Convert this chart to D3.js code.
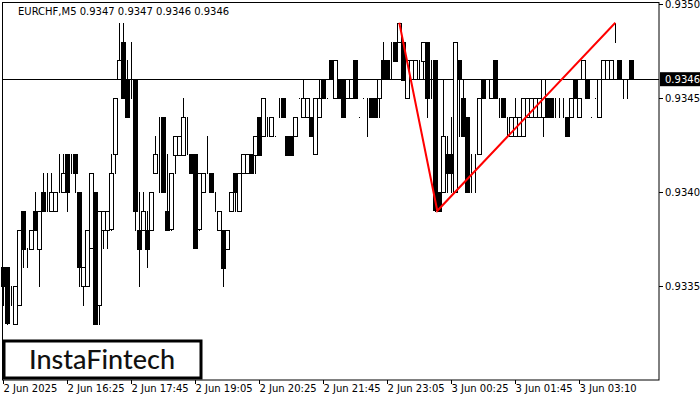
<!DOCTYPE html>
<html><head><meta charset="utf-8">
<script src="https://cdn.jsdelivr.net/npm/d3@7"></script>
<style>body{margin:0;background:#fff}svg{font-family:Tahoma,"DejaVu Sans",sans-serif}</style>
</head><body><div id="chart"></div>
<script>
// prices in 0.93xx pips
var opens  = [36,36,34,33,34,39,37,37,39,37,40,40,39,39,41,40,42,41,42,40,35,35,37,40,34,38,38,38,42,46,48,46,45,46,38,38,38,38,41,43,44,39,38,42,42,42,43,42,42,38,40,42,41,39,38,38,37,39,41,39,41,41,42,42,44,43,44,43,43,44,45,43,43,43,45,44,44,44,42,44,46,45,47,45,46,46,45,45,47,44,45,44,45,45,45,47,47,47,48,48,48,45,46,46,47,47,48,46,47,40,40,42,42,40,47,45,44,42,41,42,46,46,45,47,44,45,43,43,43,43,43,44,44,44,44,44,45,45,44,44,44,44,44,46,44,46,46,44,45,44,46,46,46,48,47,46,46,47];
var highs  = [36,36,35,35,38,39,37,38,40,39,41,41,41,40,42,42,42,42,42,40,36,38,41,40,39,39,39,42,45,49,49,47,48,46,40,40,39,40,43,44,44,42,41,43,43,45,44,42,42,41,41,43,41,40,39,38,38,40,41,41,42,42,42,43,44,45,44,44,43,45,45,43,43,44,45,46,45,44,45,46,46,45,47,47,46,46,46,46,47,44,45,45,45,45,46,48,47,48,48,49,48,47,47,47,47,48,48,47,47,40,46,43,44,48,47,46,44,42,42,45,46,46,46,47,45,45,44,44,45,44,45,45,45,45,45,46,45,45,45,45,45,44,45,46,45,47,46,44,45,46,47,47,47,49,47,46,46,47];
var lows   = [34,33,34,33,34,36,36,37,38,35,39,39,39,39,40,40,39,41,40,35,34,35,37,33,33,37,37,38,41,46,45,44,45,38,35,38,36,38,41,40,40,38,38,41,42,42,42,41,37,38,40,41,40,39,38,35,37,39,39,39,41,41,41,41,42,43,43,43,43,44,44,42,42,43,45,44,44,43,42,44,45,45,46,45,45,44,45,45,45,44,45,43,44,44,44,46,46,46,47,48,46,45,46,46,46,46,44,45,39,39,40,40,40,40,43,43,40,40,40,42,45,46,45,45,44,44,43,43,43,43,43,44,44,44,44,43,44,44,44,44,44,43,44,45,44,46,45,44,45,44,46,46,46,48,46,45,45,46];
var closes = [35,33,34,35,38,37,37,38,38,39,39,40,40,40,41,41,40,41,41,36,36,38,41,33,39,39,39,41,45,47,45,44,45,39,37,39,37,40,42,43,40,38,41,43,43,44,43,41,37,41,41,42,40,39,39,36,38,40,40,41,42,42,41,43,42,45,44,44,43,44,44,42,42,44,45,45,45,43,45,45,45,45,46,47,45,44,46,46,45,44,45,44,44,44,46,46,46,47,47,49,46,47,47,47,47,48,45,46,39,39,43,41,41,48,46,43,40,42,41,45,45,46,46,45,44,44,43,44,44,44,45,45,45,45,45,46,44,44,44,44,44,43,45,45,45,47,45,44,45,46,47,47,47,48,46,46,46,46];
var priceTicks = [0.9350, 0.9345, 0.9340, 0.9335];
var timeLabels = ["2 Jun 2025","2 Jun 16:25","2 Jun 17:45","2 Jun 19:05","2 Jun 20:25","2 Jun 21:45","2 Jun 23:05","3 Jun 00:25","3 Jun 01:45","3 Jun 03:10"];
var pattern = [[99, 0.9349], [108.5, 0.9339], [153, 0.9349]];
var lastPrice = 0.9346;

var W = 700, H = 400, right = 659, bottom = 380;
var svg = d3.select("#chart").append("svg").attr("width", W).attr("height", H);
var x = d3.scaleLinear().domain([0, 157]).range([3.3, 3.3 + 4 * 157]);
var y = d3.scaleLinear().domain([0.9350, 0.9335]).range([4, 286]);
var p = function (v) { return 0.93 + v / 10000; };

svg.append("rect").attr("x", 2.5).attr("y", 2.5).attr("width", right - 2.5).attr("height", bottom - 2.5)
  .attr("fill", "none").attr("stroke", "#000");

// last price line
svg.append("line").attr("x1", 3).attr("x2", right).attr("y1", Math.round(y(lastPrice)) + 0.5).attr("y2", Math.round(y(lastPrice)) + 0.5)
  .attr("stroke", "#000");

var g = svg.append("g").attr("shape-rendering", "crispEdges");
var idx = d3.range(opens.length);
g.selectAll("line.w").data(idx).join("line")
  .attr("x1", function (i) { return Math.round(x(i)) + 0.5; }).attr("x2", function (i) { return Math.round(x(i)) + 0.5; })
  .attr("y1", function (i) { return Math.round(y(p(highs[i]))); }).attr("y2", function (i) { return Math.round(y(p(lows[i]))) + 1; })
  .attr("stroke", "#000");
g.selectAll("rect.b").data(idx).join("rect")
  .attr("x", function (i) { return Math.round(x(i)) - 1.5; })
  .attr("y", function (i) { return Math.round(y(p(Math.max(opens[i], closes[i])))) + 0.5; })
  .attr("width", 4)
  .attr("height", function (i) { return Math.max(0, Math.round(y(p(Math.min(opens[i], closes[i]))) - y(p(Math.max(opens[i], closes[i]))))); })
  .attr("fill", function (i) { return closes[i] < opens[i] ? "#000" : "#fff"; })
  .attr("stroke", "#000");

// pattern
svg.append("path").datum(pattern)
  .attr("d", d3.line().x(function (d) { return x(d[0]); }).y(function (d) { return y(d[1]); }))
  .attr("fill", "none").attr("stroke", "#f00").attr("stroke-width", 2);

// price axis
var ax = svg.append("g");
priceTicks.forEach(function (t) {
  ax.append("line").attr("x1", right).attr("x2", right + 4).attr("y1", Math.round(y(t)) + 0.5).attr("y2", Math.round(y(t)) + 0.5).attr("stroke", "#000");
  ax.append("text").attr("x", 665).attr("y", y(t) + 4).attr("font-size", 10).text(t.toFixed(4));
});
ax.append("rect").attr("x", right + 1).attr("y", y(lastPrice) - 7).attr("width", 40).attr("height", 14).attr("fill", "#000");
ax.append("text").attr("x", 665).attr("y", y(lastPrice) + 4).attr("font-size", 10).attr("fill", "#fff").text(lastPrice.toFixed(4));

// time axis
timeLabels.forEach(function (t, j) {
  var xx = Math.round(x(j * 16)) + 0.5;
  svg.append("line").attr("x1", xx).attr("x2", xx).attr("y1", bottom).attr("y2", bottom + 4).attr("stroke", "#000");
  svg.append("text").attr("x", xx).attr("y", 392).attr("font-size", 10).text(t);
});

svg.append("text").attr("x", 18).attr("y", 15).attr("font-size", 10).text("EURCHF,M5  0.9347 0.9347 0.9346 0.9346");

// logo
svg.append("rect").attr("x", 4).attr("y", 341).attr("width", 197).attr("height", 37).attr("fill", "#fff").attr("stroke", "#000").attr("stroke-width", 3);
svg.append("text").attr("x", 102).attr("y", 369).attr("text-anchor", "middle").attr("font-family", "Lato, 'Open Sans', sans-serif")
  .attr("font-size", 27).attr("font-weight", 500).attr("fill", "#111").text("InstaFintech");
</script></body></html>
